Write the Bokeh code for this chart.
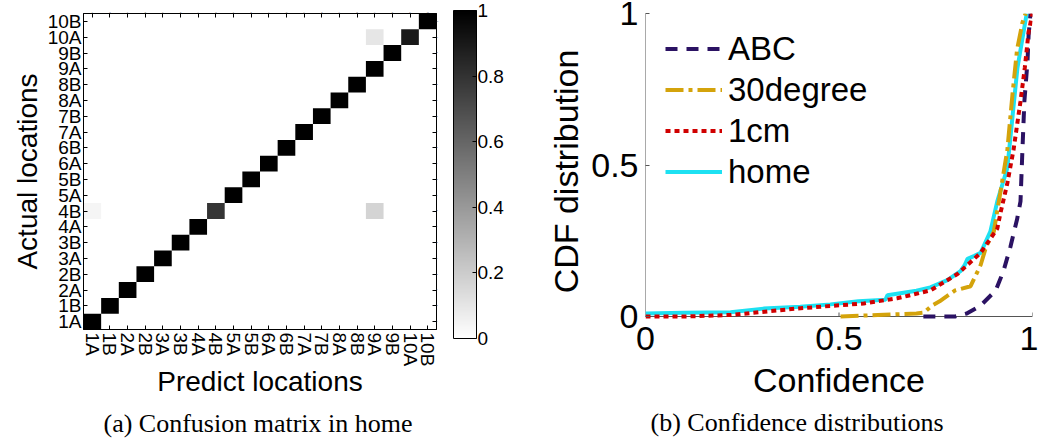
import math
from bokeh.plotting import figure
from bokeh.models import (FactorRange, Range1d, ColumnDataSource, LinearColorMapper, ColorBar,
                          FixedTicker, NumeralTickFormatter, CategoricalAxis, Legend, LegendItem, Title)
from bokeh.layouts import row
from bokeh.transform import transform
from bokeh.embed import file_html
from bokeh.resources import INLINE

# ---------------- data ----------------
categories = ["1A", "1B", "2A", "2B", "3A", "3B", "4A", "4B", "5A", "5B",
              "6A", "6B", "7A", "7B", "8A", "8B", "9A", "9B", "10A", "10B"]

# non-zero cells of the confusion matrix (actual, predicted, value)
cell_actual = categories + ["4B", "4B", "10A"]
cell_pred = categories + ["1A", "9A", "9A"]
cell_value = [1, 1, 1, 1, 1, 1, 1, 0.79, 1, 1,
              1, 1, 1, 1, 1, 1, 1, 1, 0.9, 1,
              0.04, 0.17, 0.1]

colorbar_ticks = [0, 0.2, 0.4, 0.6, 0.8, 1]

abc_x = [0.718, 0.80, 0.83, 0.866, 0.905, 0.925, 0.943, 0.96, 0.969, 0.974, 0.979, 0.987, 0.99, 0.995]
abc_y = [0.0, 0.0, 0.01, 0.036, 0.086, 0.15, 0.23, 0.32, 0.38, 0.55, 0.71, 0.84, 0.93, 1.0]

deg30_x = [0.504, 0.60, 0.70, 0.72, 0.74, 0.76, 0.80, 0.84, 0.866, 0.88, 0.90, 0.917, 0.935, 0.948, 0.96, 0.974, 0.982]
deg30_y = [0.0, 0.005, 0.01, 0.013, 0.036, 0.05, 0.086, 0.10, 0.17, 0.23, 0.28, 0.41, 0.55, 0.73, 0.88, 0.97, 1.0]

cm1_x = [0.0, 0.1, 0.22, 0.30, 0.39, 0.48, 0.564, 0.65, 0.736, 0.806, 0.866, 0.909, 0.917, 0.935, 0.951, 0.969, 0.98, 0.99, 1.0]
cm1_y = [0.0, 0.0, 0.005, 0.015, 0.026, 0.035, 0.043, 0.06, 0.086, 0.14, 0.21, 0.29, 0.34, 0.44, 0.55, 0.71, 0.82, 0.94, 1.0]

home_x = [0.0, 0.1, 0.22, 0.305, 0.40, 0.478, 0.55, 0.62, 0.625, 0.70, 0.736, 0.78, 0.814, 0.825, 0.832,
          0.85, 0.866, 0.891, 0.909, 0.935, 0.961, 0.985]
home_y = [0.01, 0.012, 0.014, 0.026, 0.032, 0.04, 0.05, 0.055, 0.07, 0.085, 0.096, 0.12, 0.15, 0.17, 0.19,
          0.20, 0.21, 0.28, 0.38, 0.49, 0.82, 1.0]

cdf_ticks = [0, 0.5, 1]

SANS = "Liberation Sans"
SERIF = "Liberation Serif"
AX_GRAY = "#555555"

# ---------------- (a) confusion matrix ----------------
gray_palette = ["#%02x%02x%02x" % (g, g, g) for g in range(255, -1, -1)]
mapper = LinearColorMapper(palette=gray_palette, low=0, high=1)

pa = figure(width=530, height=444, x_range=FactorRange(*categories), y_range=FactorRange(*categories),
            output_backend="svg", toolbar_location=None,
            min_border_left=83, min_border_top=13, min_border_right=94, min_border_bottom=115)
src = ColumnDataSource(dict(act=cell_actual, pred=cell_pred, val=cell_value))
pa.rect(x="pred", y="act", width=1, height=1, source=src,
        fill_color=transform("val", mapper), line_color=None)
pa.xgrid.visible = False
pa.ygrid.visible = False
pa.outline_line_color = "black"
pa.outline_line_alpha = 1

for ax in (pa.xaxis[0], pa.yaxis[0]):
    ax.major_tick_in = 4
    ax.major_tick_out = 0
    ax.axis_line_color = "black"
    ax.major_tick_line_color = "black"
    ax.major_label_text_font = SANS
    ax.major_label_text_font_size = "19px"
    ax.major_label_text_color = "black"
    ax.axis_label_text_font = SANS
    ax.axis_label_text_font_size = "28px"
    ax.axis_label_text_font_style = "normal"
    ax.axis_label_text_color = "black"
pa.xaxis.axis_label = "Predict locations"
pa.yaxis.axis_label = "Actual locations"
pa.xaxis.major_label_orientation = -math.pi / 2
pa.xaxis.major_label_standoff = 3
pa.yaxis.major_label_standoff = 2
pa.xaxis.axis_label_standoff = -3
pa.yaxis.axis_label_standoff = 2

# tick-only axes on the top and right edges of the matrix box
blank_labels = {c: "" for c in categories}
top_ax = CategoricalAxis(major_label_text_font_size="1px", major_label_standoff=0,
                         major_label_overrides=blank_labels,
                         major_tick_in=4, major_tick_out=0, axis_line_color="black")
pa.add_layout(top_ax, "above")
right_ax = CategoricalAxis(major_label_text_font_size="1px", major_label_standoff=0,
                           major_label_overrides=blank_labels,
                           major_tick_in=4, major_tick_out=0, axis_line_color="black")
pa.add_layout(right_ax, "right")

cbar = ColorBar(color_mapper=mapper, ticker=FixedTicker(ticks=colorbar_ticks),
                formatter=NumeralTickFormatter(format="0.[0]"),
                width=23, height=328, padding=0, margin=0, location=(12, -9),
                bar_line_color="black", major_tick_in=4, major_tick_out=0,
                major_tick_line_color="black", label_standoff=1,
                major_label_text_font=SANS, major_label_text_font_size="19px",
                major_label_text_color="black",
                border_line_color=None, background_fill_alpha=0)
pa.add_layout(cbar, "right")

pa.add_layout(Title(text="(a) Confusion matrix in home", align="left", offset=20, standoff=12,
                    text_font=SERIF, text_font_size="26px", text_font_style="normal",
                    text_color="black"), "below")

# ---------------- (b) confidence CDF ----------------
# frame spans the same rows as (a); the value 0 sits 13 px above the frame bottom
pb = figure(width=508, height=444, x_range=Range1d(0, 1), y_range=Range1d(-13 / 303, 1),
            output_backend="svg", toolbar_location=None,
            min_border_left=115, min_border_right=6, min_border_top=13, min_border_bottom=115)
pb.xgrid.visible = False
pb.ygrid.visible = False
pb.outline_line_color = None

# axis lines and x ticks at value 0
x_lo, x_hi = cdf_ticks[0], cdf_ticks[-1]
pb.segment(x0=[x_lo, x_lo], y0=[0, 0], x1=[x_hi, x_lo], y1=[0, 1], line_color=AX_GRAY, line_width=1)
pb.segment(x0=cdf_ticks[1:], y0=[0] * 2, x1=cdf_ticks[1:], y1=[4 / 303] * 2, line_color=AX_GRAY, line_width=1)

r_home = pb.line(home_x, home_y, line_color="#1de1f2", line_width=4)
r_abc = pb.line(abc_x, abc_y, line_color="#2b1263", line_width=4, line_dash="12 9")
r_30 = pb.line(deg30_x, deg30_y, line_color="#d4a30b", line_width=4, line_dash="18 5 4 5")
r_1cm = pb.line(cm1_x, cm1_y, line_color="#d00000", line_width=4, line_dash="5 4")

for ax in (pb.xaxis[0], pb.yaxis[0]):
    ax.ticker = FixedTicker(ticks=cdf_ticks)
    ax.formatter = NumeralTickFormatter(format="0.[0]")
    ax.major_tick_in = 4
    ax.major_tick_out = 0
    ax.minor_tick_line_color = None
    ax.axis_line_color = None
    ax.major_tick_line_color = AX_GRAY
    ax.major_label_text_font = SANS
    ax.major_label_text_font_size = "34px"
    ax.major_label_text_color = "black"
    ax.axis_label_text_font = SANS
    ax.axis_label_text_font_size = "34px"
    ax.axis_label_text_font_style = "normal"
    ax.axis_label_text_color = "black"
pb.xaxis.major_tick_line_color = None
pb.xaxis.axis_label = "Confidence"
pb.yaxis.axis_label = "CDF distribution"
pb.xaxis.major_label_standoff = -3
pb.yaxis.major_label_standoff = 7
pb.xaxis.axis_label_standoff = 8
pb.yaxis.axis_label_standoff = 3

legend = Legend(items=[LegendItem(label="ABC", renderers=[r_abc]),
                       LegendItem(label="30degree", renderers=[r_30]),
                       LegendItem(label="1cm", renderers=[r_1cm]),
                       LegendItem(label="home", renderers=[r_home])],
                location=(20, 137), padding=0, margin=0, spacing=0,
                glyph_width=57, glyph_height=41, label_height=41, label_standoff=6,
                label_text_font=SANS, label_text_font_size="33px", label_text_color="black",
                border_line_color=None, background_fill_alpha=0)
pb.add_layout(legend)

pb.add_layout(Title(text="(b) Confidence distributions", align="left", offset=5, standoff=8,
                    text_font=SERIF, text_font_size="26px", text_font_style="normal",
                    text_color="black"), "below")

layout = row(pa, pb, spacing=0)
open("out.html", "w").write(file_html(layout, INLINE))
